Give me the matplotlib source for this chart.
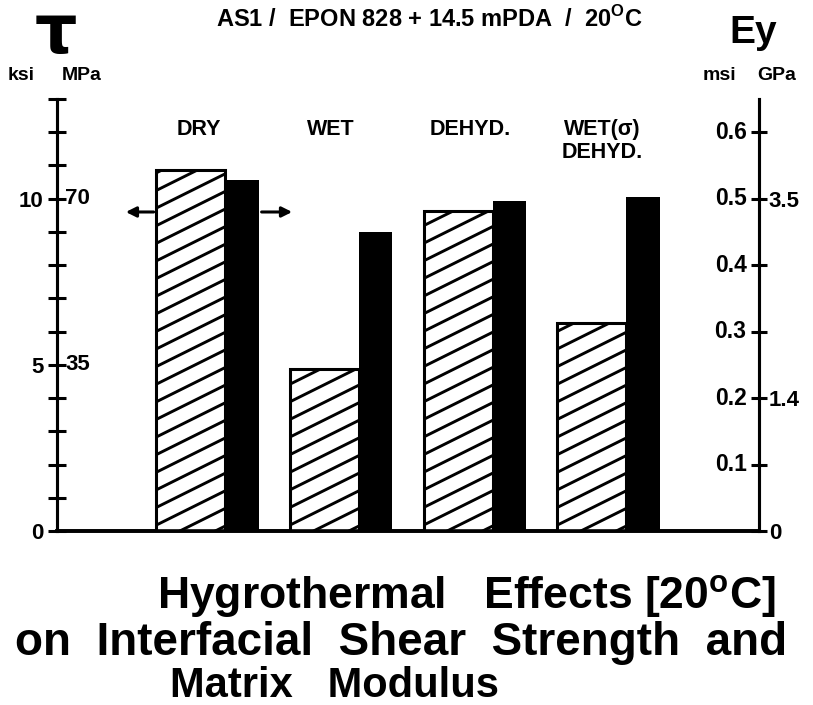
import numpy as np
import matplotlib
matplotlib.use("Agg")
import matplotlib.pyplot as plt

plt.rcParams['font.family'] = ['Liberation Sans', 'DejaVu Sans']
plt.rcParams['font.weight'] = 'bold'
plt.rcParams['mathtext.fontset'] = 'custom'
plt.rcParams['mathtext.rm'] = 'Liberation Sans:bold'

# conditions and measured values
conditions = ['DRY', 'WET', 'DEHYD.', 'WET(σ)\nDEHYD.']
shear_ksi = [10.85, 4.86, 9.64, 6.25]      # interfacial shear strength, hatched
modulus_msi = [0.528, 0.450, 0.497, 0.502]  # matrix modulus, solid

ksi_labels = {0: '0', 5: '5', 10: '10'}
mpa_labels = {5: '35', 10: '70'}
msi_ticks = [0.1, 0.2, 0.3, 0.4, 0.5, 0.6]
gpa_labels = {0.0: '0', 0.2: '1.4', 0.5: '3.5'}

W, H = 813, 705
fig = plt.figure(figsize=(W / 100, H / 100), dpi=100)


def px(x, y):
    return x / W, 1 - y / H


ax = fig.add_axes([57 / W, (H - 531) / H, 702 / W, 432 / H])
ax2 = ax.twinx()

x = np.arange(len(conditions))
w_h, w_s = 0.516, 0.25
xc_h = x
xc_s = x + w_h / 2 + w_s / 2

bars = ax.bar(xc_h, shear_ksi, width=w_h, facecolor='white',
              edgecolor='black', linewidth=2.2, zorder=3)
ax2.bar(xc_s, modulus_msi, width=w_s, color='black', zorder=3)

# shallow diagonal hatching clipped to each hatched bar
slope = 2.0
for b in bars:
    x0 = b.get_x()
    x1 = x0 + b.get_width()
    for c in np.arange(-3, 14, 0.53):
        ln, = ax.plot([x0, x1], [c, c + slope * (x1 - x0)], color='black',
                      lw=2.1, solid_capstyle='butt', zorder=4)
        ln.set_clip_path(b)

ax.set_xlim(-1.002, 4.25)
ax.set_ylim(0, 13)
ax2.set_ylim(0, 0.65)

for a in (ax, ax2):
    a.spines['top'].set_visible(False)
    a.spines['left'].set_linewidth(2.2)
    a.spines['right'].set_linewidth(2.2)
    a.spines['bottom'].set_linewidth(2.6)
    a.set_xticks([])

ax.set_yticks(np.arange(0, 14))
ax.set_yticklabels([ksi_labels.get(v, '') for v in range(14)])
ax.tick_params(axis='y', direction='inout', length=13, width=2.2,
               labelsize=16, pad=3)

ax2.set_yticks([0.0] + msi_ticks)
ax2.set_yticklabels([gpa_labels.get(round(v, 1), '') for v in [0.0] + msi_ticks])
ax2.tick_params(axis='y', direction='inout', length=12, width=2.2,
                labelsize=16, pad=1)
ax2.get_yticklines()[0].set_visible(False)

for v, s in mpa_labels.items():
    ax.annotate(s, xy=(0, v), xycoords=('axes fraction', 'data'),
                xytext=(6, 0), textcoords='offset points',
                ha='left', va='center', fontsize=16)
for v in msi_ticks:
    ax2.annotate(f'{v:.1f}', xy=(1, v), xycoords=('axes fraction', 'data'),
                 xytext=(-9, 0), textcoords='offset points',
                 ha='right', va='center', fontsize=16.5)

# arrows showing which scale each bar uses
ax.annotate('', xy=(-0.258 - 0.25, 9.6), xytext=(-0.258, 9.6),
            arrowprops=dict(arrowstyle='-|>', color='black', lw=2.2,
                            mutation_scale=15))
ax.annotate('', xy=(xc_s[0] + w_s / 2 + 0.27, 9.6),
            xytext=(xc_s[0] + w_s / 2, 9.6),
            arrowprops=dict(arrowstyle='-|>', color='black', lw=2.2,
                            mutation_scale=15))

# condition labels above the bars
lab_x = [199, 331, 470, 602]
for lx, name in zip(lab_x, conditions):
    fig.text(*px(lx, 119), name, ha='center', va='top', fontsize=15.5,
             linespacing=1.1)

# axis symbols and units
fig.text(*px(56, 53), 'τ', ha='center', va='baseline', fontsize=48,
         family='DejaVu Sans')
fig.text(*px(8, 80), 'ksi', ha='left', va='baseline', fontsize=14)
fig.text(*px(62, 80), 'MPa', ha='left', va='baseline', fontsize=14)
fig.text(*px(729, 43), 'Ey', ha='left', va='baseline', fontsize=28)
fig.text(*px(703, 80), 'msi', ha='left', va='baseline', fontsize=14)
fig.text(*px(757, 80), 'GPa', ha='left', va='baseline', fontsize=14)

fig.text(*px(429, 27), r'AS1 /  EPON 828 + 14.5 mPDA  /  20$^{\mathrm{O}}$C',
         ha='center', va='baseline', fontsize=17)

# caption
fig.text(*px(157, 609), 'Hygrothermal   Effects [20$^{\\mathrm{o}}$C]',
         ha='left', va='baseline', fontsize=32)
fig.text(*px(15, 655), 'on  Interfacial  Shear  Strength  and',
         ha='left', va='baseline', fontsize=33)
fig.text(*px(170, 697), 'Matrix   Modulus',
         ha='left', va='baseline', fontsize=30)

fig.savefig('out.png', dpi=100)
